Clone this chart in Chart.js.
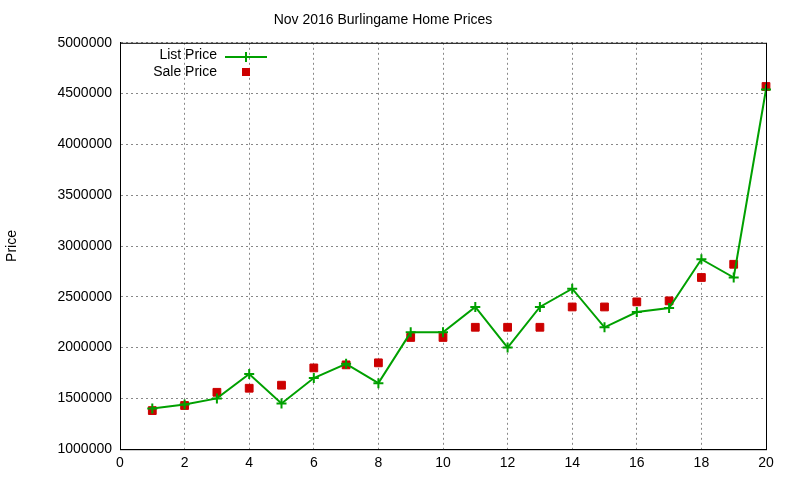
<!DOCTYPE html>
<html><head><meta charset="utf-8">
<script src="https://cdn.jsdelivr.net/npm/chart.js@4/dist/chart.umd.min.js"></script>
<style>body{margin:0;background:#fff}#wrap{width:800px;height:480px}</style>
</head><body><div id="wrap"><canvas id="c"></canvas></div>
<script>
const homes = [1,2,3,4,5,6,7,8,9,10,11,12,13,14,15,16,17,18,19,20];
const listPrice = [1400000,1440000,1500000,1740000,1450000,1700000,1840000,1650000,2150000,2150000,2400000,2000000,2400000,2580000,2200000,2350000,2390000,2870000,2690000,4540000];
const salePrice = [1380000,1430000,1560000,1600000,1630000,1800000,1830000,1850000,2100000,2100000,2200000,2200000,2200000,2400000,2400000,2450000,2460000,2690000,2820000,4570000];
const xTicks = [0,2,4,6,8,10,12,14,16,18,20];

const font = { family: 'Liberation Sans, Arial', size: 14, weight: 'normal' };

// gnuplot-like legend (text left of sample) and plot frame
const legendPlugin = {
  id: 'gpLegend',
  afterDraw(chart) {
    const c = chart.ctx;
    const a = chart.chartArea;
    c.save();
    c.strokeStyle = '#000';
    c.lineWidth = 1;
    c.strokeRect(a.left + 0.5, a.top + 0.5, a.right - a.left, a.bottom - a.top);
    c.font = '14px Liberation Sans, Arial';
    c.fillStyle = '#000';
    c.textAlign = 'right';
    c.textBaseline = 'middle';
    c.fillText('List Price', 217, 55);
    c.fillText('Sale Price', 217, 72);
    c.strokeStyle = '#00a000';
    c.lineWidth = 2;
    c.beginPath();
    c.moveTo(225, 57); c.lineTo(267, 57);
    c.moveTo(246, 52); c.lineTo(246, 62);
    c.stroke();
    c.fillStyle = '#cc0000';
    c.fillRect(242, 68, 8, 8);
    c.restore();
  }
};

new Chart(document.getElementById('c'), {
  type: 'scatter',
  data: {
    datasets: [
      {
        label: 'List Price',
        data: homes.map((x, i) => ({ x, y: listPrice[i] })),
        showLine: true,
        borderColor: '#00a000',
        borderWidth: 2,
        pointStyle: 'cross',
        pointRadius: 5,
        pointBorderWidth: 2,
        pointBorderColor: '#00a000',
        clip: false
      },
      {
        label: 'Sale Price',
        data: homes.map((x, i) => ({ x, y: salePrice[i] })),
        pointStyle: 'rect',
        pointRadius: 5.5,
        pointBackgroundColor: '#cc0000',
        pointBorderColor: '#cc0000',
        clip: false
      }
    ]
  },
  options: {
    responsive: true,
    maintainAspectRatio: false,
    animation: false,
    layout: { padding: { top: 10, right: 34, bottom: 2, left: 0 } },
    plugins: {
      legend: { display: false },
      tooltip: { enabled: false },
      title: { display: true, text: 'Nov 2016 Burlingame Home Prices', color: '#000', font, padding: { top: 2, bottom: 14 } }
    },
    scales: {
      x: {
        type: 'linear', min: 0, max: 20,
        afterBuildTicks: a => { a.ticks = xTicks.map(v => ({ value: v })); },
        grid: { color: '#888', drawTicks: false },
        border: { color: '#000', width: 1, dash: [2, 3] },
        ticks: { color: '#000', font, padding: 6, maxRotation: 0 }
      },
      y: {
        min: 1000000, max: 5000000,
        afterFit: a => { a.width = 120; },
        grid: { color: '#888', drawTicks: false },
        border: { color: '#000', width: 1, dash: [2, 3] },
        ticks: { stepSize: 500000, color: '#000', font, padding: 8, callback: v => String(v) },
        title: { display: true, text: 'Price', color: '#000', font, padding: { bottom: 20 } }
      }
    }
  },
  plugins: [legendPlugin]
});
</script>
</body></html>
